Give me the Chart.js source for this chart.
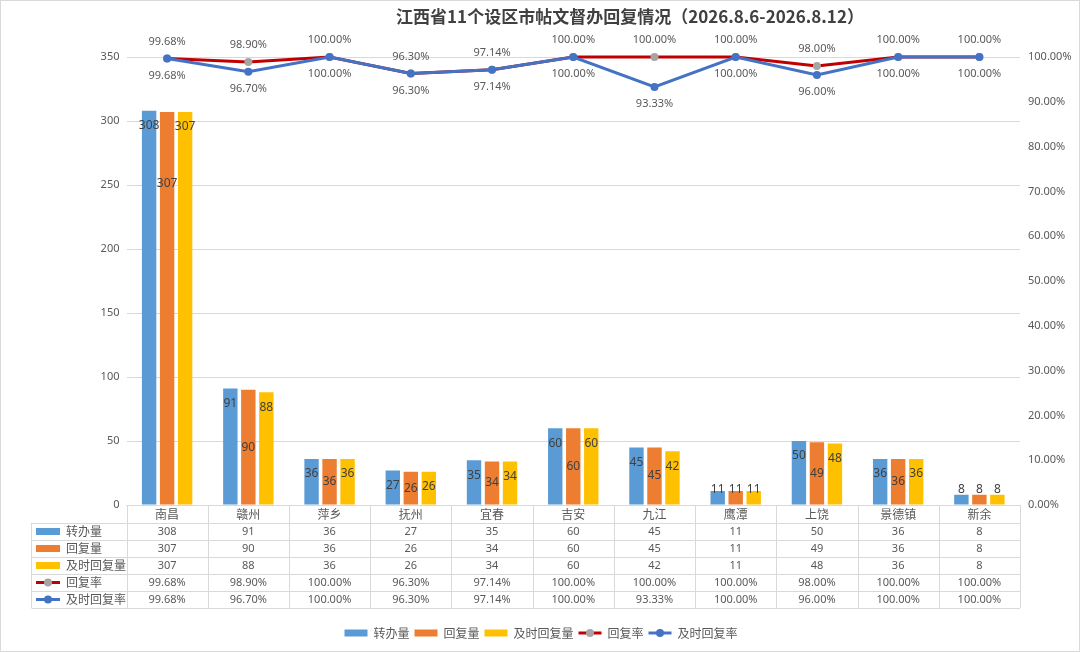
<!DOCTYPE html>
<html>
<head>
<meta charset="utf-8">
<script src="https://cdn.jsdelivr.net/npm/chart.js@4"></script>
<style>
  body { margin: 0; background: #fff; }
  #wrap { width: 1080px; height: 652px; }
</style>
</head>
<body>
<div id="wrap"><canvas id="chart" width="1080" height="652"></canvas></div>
<script>
const title = '江西省11个设区市帖文督办回复情况（2026.8.6-2026.8.12）';
const cities = ['南昌', '赣州', '萍乡', '抚州', '宜春', '吉安', '九江', '鹰潭', '上饶', '景德镇', '新余'];
const transferred = [308, 91, 36, 27, 35, 60, 45, 11, 50, 36, 8];
const replied = [307, 90, 36, 26, 34, 60, 45, 11, 49, 36, 8];
const repliedInTime = [307, 88, 36, 26, 34, 60, 42, 11, 48, 36, 8];
const replyRate = [99.68, 98.90, 100, 96.30, 97.14, 100, 100, 100, 98.00, 100, 100];
const timelyRate = [99.68, 96.70, 100, 96.30, 97.14, 100, 93.33, 100, 96.00, 100, 100];

const seriesNames = ['转办量', '回复量', '及时回复量', '回复率', '及时回复率'];
const barColors = ['#5B9BD5', '#ED7D31', '#FFC000'];
const redLine = '#C00000', grayDot = '#A5A5A5', blueLine = '#4472C4';

const CJK = '"Noto Sans CJK SC", "Noto Sans", sans-serif';
const NUM = '"Noto Sans", "Noto Sans CJK SC", sans-serif';
const textColor = '#595959';
const lineColor = '#d9d9d9';

const pct = v => v.toFixed(2) + '%';

// draws bar/point labels, the data table under the axis, the legend and the title
const extras = {
    id: 'extras',
    beforeDraw(chart) {
        const ctx = chart.ctx;
        ctx.save();
        ctx.fillStyle = '#fff';
        ctx.fillRect(0, 0, chart.width, chart.height);
        ctx.restore();
    },
    afterDatasetsDraw(chart) {
        const ctx = chart.ctx;
        ctx.save();
        ctx.textAlign = 'center';
        ctx.textBaseline = 'middle';

        // bar labels
        ctx.font = '12px ' + NUM;
        ctx.fillStyle = '#404040';
        [0, 1, 2].forEach(di => {
            const meta = chart.getDatasetMeta(di);
            const vals = chart.data.datasets[di].data;
            meta.data.forEach((bar, j) => {
                let y;
                if (di === 1) y = Math.min((bar.y + bar.base) / 2, bar.y + 72, bar.base - 15);
                else y = Math.min(bar.y + 15, bar.base - 15);
                ctx.fillText(vals[j], bar.x, y);
            });
        });

        // line labels: reply rate above, timely rate below
        ctx.font = '11px ' + NUM;
        ctx.fillStyle = textColor;
        [[3, -17], [4, 17]].forEach(([di, off]) => {
            const meta = chart.getDatasetMeta(di);
            const vals = chart.data.datasets[di].data;
            meta.data.forEach((pt, j) => ctx.fillText(pct(vals[j]), pt.x, pt.y + off));
        });
        ctx.restore();
    },
    afterDraw(chart) {
        const ctx = chart.ctx;
        const x = chart.scales.x;
        const area = chart.chartArea;
        const colW = (x.right - x.left) / cities.length;
        const tableLeft = 31.5;
        const rowTop = 523;
        const rowH = 17;
        const rows = [
            transferred, replied, repliedInTime,
            replyRate.map(pct), timelyRate.map(pct)
        ];

        ctx.save();
        ctx.strokeStyle = lineColor;
        ctx.lineWidth = 1;
        ctx.beginPath();
        for (let r = 0; r <= rows.length; r++) {
            const y = Math.round(rowTop + r * rowH) + 0.5;
            ctx.moveTo(tableLeft, y);
            ctx.lineTo(x.right, y);
        }
        ctx.moveTo(tableLeft, rowTop);
        ctx.lineTo(tableLeft, rowTop + rows.length * rowH);
        for (let i = 0; i <= cities.length; i++) {
            const cx = Math.round(x.left + i * colW) + 0.5;
            ctx.moveTo(cx, area.bottom);
            ctx.lineTo(cx, rowTop + rows.length * rowH);
        }
        ctx.stroke();

        ctx.textBaseline = 'middle';
        rows.forEach((vals, r) => {
            const cy = rowTop + r * rowH + rowH / 2;
            ctx.textAlign = 'center';
            ctx.fillStyle = textColor;
            ctx.font = '11px ' + NUM;
            vals.forEach((v, i) => ctx.fillText(v, x.getPixelForValue(i), cy + 0.5));
            // row key
            drawKey(ctx, r, 36, cy, 24);
            ctx.textAlign = 'left';
            ctx.fillStyle = textColor;
            ctx.font = '12px ' + CJK;
            ctx.fillText(seriesNames[r], 66, cy);
        });

        // legend
        ctx.font = '12px ' + CJK;
        const keyW = 23, gapKey = 6, gapItem = 5;
        const widths = seriesNames.map(n => keyW + gapKey + ctx.measureText(n).width);
        const total = widths.reduce((a, b) => a + b, 0) + gapItem * (widths.length - 1);
        let lx = 541 - total / 2;
        const ly = 633;
        seriesNames.forEach((n, r) => {
            drawKey(ctx, r, lx, ly, keyW);
            ctx.textAlign = 'left';
            ctx.fillStyle = textColor;
            ctx.font = '12px ' + CJK;
            ctx.fillText(n, lx + keyW + gapKey, ly);
            lx += widths[r] + gapItem;
        });

        // title
        ctx.font = 'bold 17px ' + CJK;
        ctx.fillStyle = '#404040';
        ctx.textAlign = 'center';
        ctx.fillText(title, 630, 17);

        // outer border
        ctx.strokeStyle = lineColor;
        ctx.strokeRect(0.5, 0.5, chart.width - 1, chart.height - 1);
        ctx.restore();
    }
};

function drawKey(ctx, r, x0, cy, w) {
    if (r < 3) {
        ctx.fillStyle = barColors[r];
        ctx.fillRect(x0, cy - 3.5, w, 7);
    } else {
        ctx.strokeStyle = r === 3 ? redLine : blueLine;
        ctx.lineWidth = 3;
        ctx.beginPath();
        ctx.moveTo(x0, cy);
        ctx.lineTo(x0 + w, cy);
        ctx.stroke();
        ctx.fillStyle = r === 3 ? grayDot : blueLine;
        ctx.beginPath();
        ctx.arc(x0 + w / 2, cy, 4, 0, Math.PI * 2);
        ctx.fill();
        ctx.lineWidth = 1;
        ctx.strokeStyle = lineColor;
    }
}

const barSet = (label, data, color, order) => ({
    type: 'bar', label, data, backgroundColor: color, yAxisID: 'y',
    order, barPercentage: 0.8, categoryPercentage: 0.665, borderWidth: 0
});

new Chart(document.getElementById('chart'), {
    type: 'bar',
    data: {
        labels: cities,
        datasets: [
            barSet(seriesNames[0], transferred, barColors[0], 2),
            barSet(seriesNames[1], replied, barColors[1], 3),
            barSet(seriesNames[2], repliedInTime, barColors[2], 4),
            {
                type: 'line', label: seriesNames[3], data: replyRate, yAxisID: 'y1', order: 1,
                borderColor: redLine, borderWidth: 3, pointBackgroundColor: grayDot,
                pointBorderWidth: 0, pointRadius: 4, tension: 0, clip: false
            },
            {
                type: 'line', label: seriesNames[4], data: timelyRate, yAxisID: 'y1', order: 0,
                borderColor: blueLine, borderWidth: 3, pointBackgroundColor: blueLine,
                pointBorderWidth: 0, pointRadius: 4, tension: 0, clip: false
            }
        ]
    },
    options: {
        responsive: false,
        animation: false,
        layout: { padding: { top: 57, left: 0, right: 0, bottom: 0 } },
        plugins: { legend: { display: false }, title: { display: false }, tooltip: { enabled: false } },
        scales: {
            x: {
                grid: { display: false, drawTicks: false },
                border: { display: true, color: lineColor },
                ticks: { color: textColor, font: { family: CJK, size: 12 }, padding: 2 },
                afterFit: s => { s.height = 147; }
            },
            y: {
                min: 0, max: 350,
                ticks: { stepSize: 50, color: textColor, font: { family: NUM, size: 11 }, padding: 7 },
                grid: { color: lineColor, drawTicks: false },
                border: { display: false },
                afterFit: s => { s.width = 126.5; }
            },
            y1: {
                position: 'right',
                min: 0, max: 100,
                ticks: { stepSize: 10, color: textColor, font: { family: NUM, size: 11 }, padding: 8, callback: v => pct(v) },
                grid: { display: false, drawTicks: false },
                border: { display: false },
                afterFit: s => { s.width = 60; }
            }
        }
    },
    plugins: [extras]
});
</script>
</body>
</html>
